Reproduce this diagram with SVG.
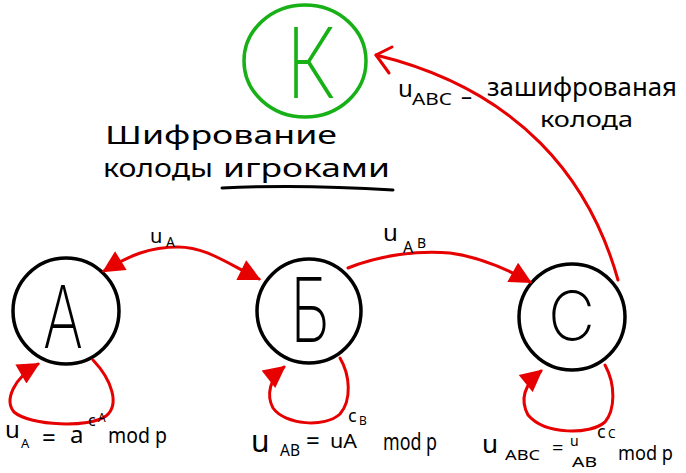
<svg xmlns="http://www.w3.org/2000/svg" width="686" height="473" viewBox="0 0 686 473">
<style>
.edge{fill:none;stroke:#e60000;stroke-width:3;stroke-linecap:round;stroke-linejoin:round}
.node{fill:none;stroke:#000;stroke-width:3.5}
.knode{fill:none;stroke:#17b117;stroke-width:3.5}
.hw{font-family:"Noto Sans","DejaVu Sans",sans-serif;fill:#000}
.big{font-family:Inter,"Noto Sans",sans-serif;font-weight:200;fill:#000}
</style>
<defs>
<marker id="tri" viewBox="0 0 10 10" refX="9" refY="5" markerUnits="userSpaceOnUse" markerWidth="24" markerHeight="22" orient="auto-start-reverse">
<path d="M0,0 L10,5 L0,10 z" fill="#e60000"/>
</marker>
</defs>
<rect width="686" height="473" fill="#fff"/>

<g id="node-K">
<ellipse class="knode" cx="305" cy="61" rx="61" ry="56"/>
<text class="big" x="286" y="98" font-size="98" textLength="50" lengthAdjust="spacingAndGlyphs" style="fill:#17b117">К</text>
</g>
<g id="node-A">
<circle class="node" cx="66" cy="311" r="53"/>
<text class="big" x="43" y="348" font-size="87" textLength="40" lengthAdjust="spacingAndGlyphs">А</text>
</g>
<g id="node-B">
<circle class="node" cx="309" cy="311" r="52"/>
<text class="big" x="290" y="342" font-size="89" textLength="40" lengthAdjust="spacingAndGlyphs">Б</text>
</g>
<g id="node-C">
<circle class="node" cx="572" cy="317" r="53"/>
<text class="big" x="548" y="340" font-size="68" textLength="47" lengthAdjust="spacingAndGlyphs">С</text>
</g>

<g id="connectors">
<path class="edge" d="M104,271 C130,255 150,247 178,247 C205,247 225,262 259,279" marker-start="url(#tri)" marker-end="url(#tri)"/>
<path class="edge" d="M348,268 C380,255 420,250 450,253 C480,257 505,268 530,282" marker-end="url(#tri)"/>
<path class="edge" d="M618,280 C590,180 520,90 376,55"/>
<path class="edge" d="M392,47 L376,55 L389,73"/>
<path class="edge" d="M93,360 C112,380 120,405 106,416 C90,428 30,426 14,412 C4,400 14,378 38,364" marker-end="url(#tri)"/>
<path class="edge" d="M340,358 C350,375 352,400 340,414 C325,428 285,425 273,408 C266,395 270,378 284,367" marker-end="url(#tri)"/>
<path class="edge" d="M605,365 C616,385 615,410 605,422 C590,435 545,435 528,415 C520,400 524,385 541,371" marker-end="url(#tri)"/>
</g>

<g id="title">
<text class="hw" x="105" y="144" font-size="26" textLength="232" lengthAdjust="spacingAndGlyphs">Шифрование</text>
<text class="hw" x="103" y="177" font-size="26" textLength="110" lengthAdjust="spacingAndGlyphs">колоды</text>
<text class="hw" x="223" y="177" font-size="26" textLength="167" lengthAdjust="spacingAndGlyphs">игроками</text>
<path d="M222,188 Q300,184 393,190" fill="none" stroke="#000" stroke-width="3" stroke-linecap="round"/>
</g>

<g id="label-K">
<text class="hw" x="398" y="97" font-size="24">u</text>
<text class="hw" x="412" y="105" font-size="16" textLength="40" lengthAdjust="spacingAndGlyphs">ABC</text>
<text class="hw" x="461" y="104" font-size="22">–</text>
<text class="hw" x="487" y="96" font-size="25" textLength="190" lengthAdjust="spacingAndGlyphs">зашифрованая</text>
<text class="hw" x="540" y="127" font-size="21" textLength="93" lengthAdjust="spacingAndGlyphs">колода</text>
</g>

<g id="label-AB">
<text class="hw" x="150" y="243" font-size="20">u</text>
<text class="hw" x="166" y="247" font-size="14">A</text>
</g>
<g id="label-BC">
<text class="hw" x="383" y="241" font-size="24">u</text>
<text class="hw" x="403" y="253" font-size="16">A</text>
<text class="hw" x="417" y="248" font-size="14">B</text>
</g>

<g id="formula-A">
<text class="hw" x="5" y="438" font-size="24">u</text>
<text class="hw" x="21" y="448" font-size="13">A</text>
<text class="hw" x="42" y="446" font-size="24">=</text>
<text class="hw" x="70" y="443" font-size="24">a</text>
<text class="hw" x="88" y="426" font-size="16">c</text>
<text class="hw" x="98" y="422" font-size="12">A</text>
<text class="hw" x="108" y="443" font-size="22" textLength="59" lengthAdjust="spacingAndGlyphs">mod p</text>
</g>
<g id="formula-B">
<text class="hw" x="251" y="452" font-size="30">u</text>
<text class="hw" x="280" y="456" font-size="16" textLength="20" lengthAdjust="spacingAndGlyphs">AB</text>
<text class="hw" x="306" y="449" font-size="24">=</text>
<text class="hw" x="330" y="448" font-size="20" textLength="27" lengthAdjust="spacingAndGlyphs">uA</text>
<text class="hw" x="348" y="422" font-size="18">c</text>
<text class="hw" x="359" y="425" font-size="12">B</text>
<text class="hw" x="383" y="450" font-size="24" textLength="54" lengthAdjust="spacingAndGlyphs">mod p</text>
</g>
<g id="formula-C">
<text class="hw" x="482" y="453" font-size="26">u</text>
<text class="hw" x="505" y="460" font-size="15" textLength="35" lengthAdjust="spacingAndGlyphs">ABC</text>
<text class="hw" x="552" y="455" font-size="20">=</text>
<text class="hw" x="570" y="446" font-size="14">u</text>
<text class="hw" x="572" y="467" font-size="14" textLength="25" lengthAdjust="spacingAndGlyphs">AB</text>
<text class="hw" x="597" y="438" font-size="18">c</text>
<text class="hw" x="608" y="438" font-size="12">C</text>
<text class="hw" x="618" y="460" font-size="20" textLength="55" lengthAdjust="spacingAndGlyphs">mod p</text>
</g>
</svg>
